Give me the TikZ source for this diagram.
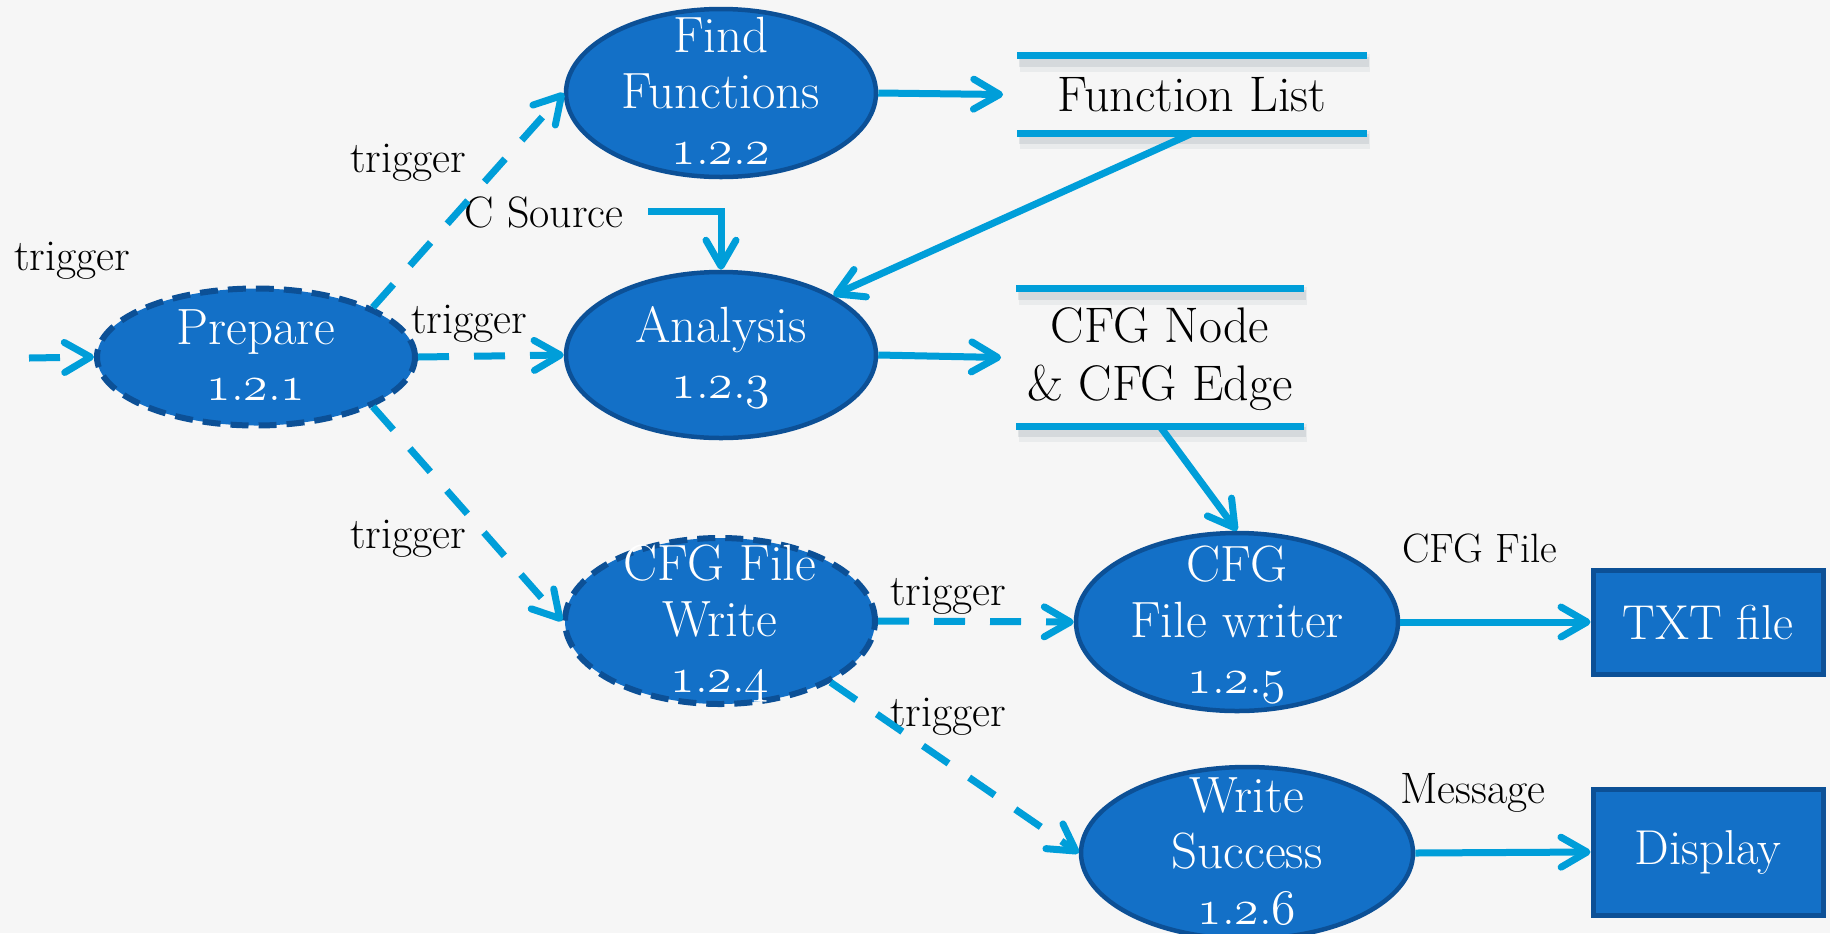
\documentclass[tikz,border=0pt]{standalone}
\usetikzlibrary{arrows.meta,shapes.geometric}
\definecolor{bgc}{RGB}{246,246,246}
\definecolor{procfill}{RGB}{19,112,199}
\definecolor{procline}{RGB}{12,80,150}
\definecolor{flow}{RGB}{0,158,217}
\definecolor{shade}{RGB}{40,60,80}
\newcommand\lstr{\rule[-6.5pt]{0pt}{28pt}}
\newcommand\sstr{\rule[-7.5pt]{0pt}{29pt}}
\newcommand\osf[1]{{\usefont{OML}{cmm}{m}{it}#1}}
\newcommand\snum[3]{\osf{#1}.\osf{#2}.\osf{#3}}
\begin{document}
\begin{tikzpicture}[x=0.5pt,y=-0.5pt,
  ptext/.style={inner sep=0pt, text=white, align=center, font=\fontsize{25.5}{28}\selectfont},
  proc/.style={ellipse, fill=procfill, draw=procline, line width=2.25pt, inner sep=0pt},
  dproc/.style={proc, line width=3pt, dash pattern=on 9pt off 5pt},
  ext/.style={rectangle, fill=procfill, draw=procline, line width=2.5pt, inner sep=0pt,
    text=white, font=\fontsize{24.5}{28}\selectfont},
  store/.style={inner sep=0pt, align=center, font=\fontsize{25}{29}\selectfont},
  lbl/.style={font=\fontsize{22}{26}\selectfont, inner sep=0pt, anchor=base},
  flowline/.style={draw=flow, line width=3.5pt, -{Straight Barb[length=13pt,width=15pt,round]}},
  trig/.style={flowline, dash pattern=on 15.5pt off 12.5pt},
  storeline/.style={draw=flow, line width=3.5pt},
  shadowa/.style={draw=shade, opacity=0.06, line width=9pt},
  shadowb/.style={draw=shade, opacity=0.10, line width=5pt},
]
\fill[bgc] (0,0) rectangle (1830,933);
\useasboundingbox (0,0) rectangle (1830,933);

% processes
\node[dproc, minimum width=159pt, minimum height=68.5pt,
  label={[ptext]center:{\lstr Prepare\\\lstr\snum{1}{2}{1}}}] (prep) at (256,357) {};
\node[proc, minimum width=155pt, minimum height=84pt,
  label={[ptext]center:{\lstr Find\\\lstr Functions\\\lstr\snum{1}{2}{2}}}] (find) at (721,93) {};
\node[proc, minimum width=155pt, minimum height=83pt,
  label={[ptext]center:{\lstr Analysis\\\lstr\snum{1}{2}{3}}}] (ana) at (721,355) {};
\node[dproc, minimum width=155pt, minimum height=83pt,
  label={[ptext]center:{\lstr CFG File\\\lstr Write\\\lstr\snum{1}{2}{4}}}] (cfgw) at (720,621) {};
\node[proc, minimum width=161pt, minimum height=89pt,
  label={[ptext]center:{\lstr CFG\\\lstr File writer\\\lstr\snum{1}{2}{5}}}] (cfgwr) at (1237,622) {};
\node[proc, minimum width=166pt, minimum height=86pt,
  label={[ptext]center:{\lstr Write\\\lstr Success\\\lstr\snum{1}{2}{6}}}] (ws) at (1247,853) {};

% externals
\node[ext, minimum width=115pt, minimum height=52pt] (txt) at (1708,622) {TXT file};
\node[ext, minimum width=115pt, minimum height=63pt] (disp) at (1708,852) {Display};

% data stores
\node[store, minimum width=174.5pt, minimum height=38.5pt] (fl) at (1192,94.5) {Function List};
\node[store, minimum width=143.5pt, minimum height=68.5pt] (cfgn) at (1160,357.5)
  {\sstr CFG Node\\\sstr\& CFG Edge};
\foreach \s in {fl,cfgn}{
  \foreach \a in {north,south}{
    \draw[shadowa] ([shift={(1.5pt,-3.5pt)}]\s.\a\space west) -- ([shift={(1.5pt,-3.5pt)}]\s.\a\space east);
    \draw[shadowb] ([shift={(1pt,-3pt)}]\s.\a\space west) -- ([shift={(1pt,-3pt)}]\s.\a\space east);
    \draw[storeline] (\s.\a\space west) -- (\s.\a\space east);
  }
}

% labels
\node[lbl] (t0) at (72,270) {trigger};
\node[lbl] (t1) at (408,172) {trigger};
\node[lbl] (t2) at (469,333) {trigger};
\node[lbl] (t3) at (408,548) {trigger};
\node[lbl] (t4) at (948,605) {trigger};
\node[lbl] (t5) at (948,726) {trigger};
\node[lbl] (csrc) at (544,227) {C Source};
\node[lbl, font=\fontsize{20.5}{24}\selectfont] (cfgfile) at (1480,562) {CFG File};
\node[lbl] (msg) at (1473,803) {Message};

% solid flows
\draw[flowline] (find.east) -- ([xshift=-7pt]fl.west);
\draw[flowline] (fl.south) -- (ana.28);
\draw[flowline] (ana.east) -- ([xshift=-7.5pt]cfgn.west);
\draw[flowline] (cfgn.south) -- (cfgwr.north);
\draw[flowline] (cfgwr.east) -- (txt.west);
\draw[flowline] (ws.east) -- (disp.west);
\draw[flowline] ([xshift=12pt]csrc.east) -| (ana.north);

% trigger flows
\coordinate (in) at (29,358);
\draw[trig] (in) -- (prep.west);
\draw[trig] (prep.23) -- (find.west);
\draw[trig] (prep.east) -- (ana.west);
\draw[trig] (prep.-23) -- (cfgw.west);
\draw[trig] (cfgw.east) -- (cfgwr.west);
\draw[trig] (cfgw.-29) -- (ws.west);
\end{tikzpicture}
\end{document}
